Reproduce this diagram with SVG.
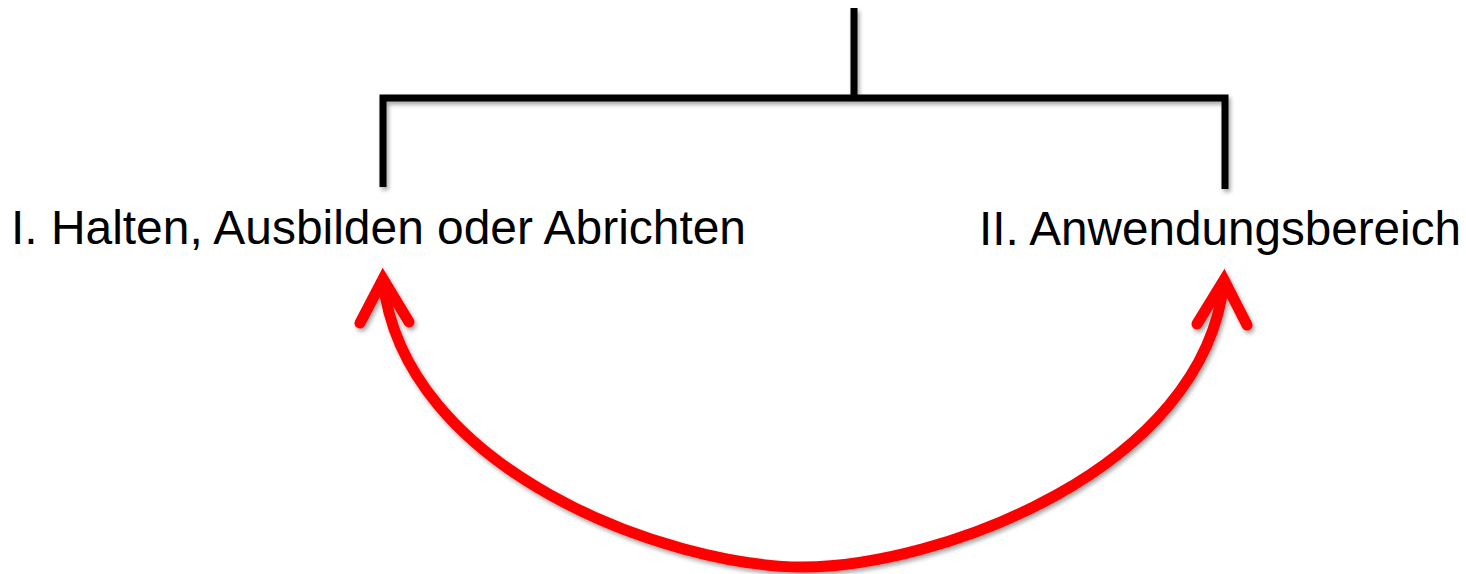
<svg xmlns="http://www.w3.org/2000/svg" width="1466" height="574" viewBox="0 0 1466 574">
  <style>
    .label { font-family: "Liberation Sans", Arial, sans-serif; font-size: 47.5px; fill: #000; }
    .tree { fill: none; stroke: #000; stroke-width: 7; stroke-linejoin: miter; stroke-linecap: butt; }
    .link { fill: none; stroke: #ff0000; stroke-width: 11; stroke-linecap: round; }
    .head { fill: none; stroke: #ff0000; stroke-width: 11; stroke-linecap: round; stroke-linejoin: miter; stroke-miterlimit: 10; }
  </style>
  <defs>
    <filter id="shadow" x="-10%" y="-10%" width="120%" height="130%">
      <feDropShadow dx="2" dy="3" stdDeviation="2" flood-color="#000" flood-opacity="0.35"/>
    </filter>
  </defs>
  <rect width="1466" height="574" fill="#fff"/>

  <g id="connectors" filter="url(#shadow)">
    <!-- bracket from the parent stem to both branches -->
    <path class="tree" d="M854 8 V100"/>
    <path class="tree" d="M383 187 V98 H1225 V189"/>
    <!-- two-headed red arc linking the branches -->
    <path class="link" d="M383 280 C403 470 668 567 803 567 C938 567 1204 470 1224 281"/>
    <path class="head" d="M360 323 L383 279 L409 322"/>
    <path class="head" d="M1197 324 L1224 280 L1247 325"/>
  </g>

  <g id="node-halten">
    <text class="label" x="11" y="244" textLength="735" lengthAdjust="spacingAndGlyphs">I. Halten, Ausbilden oder Abrichten</text>
  </g>
  <g id="node-anwendungsbereich">
    <text class="label" x="979" y="245" textLength="482" lengthAdjust="spacingAndGlyphs">II. Anwendungsbereich</text>
  </g>
</svg>
